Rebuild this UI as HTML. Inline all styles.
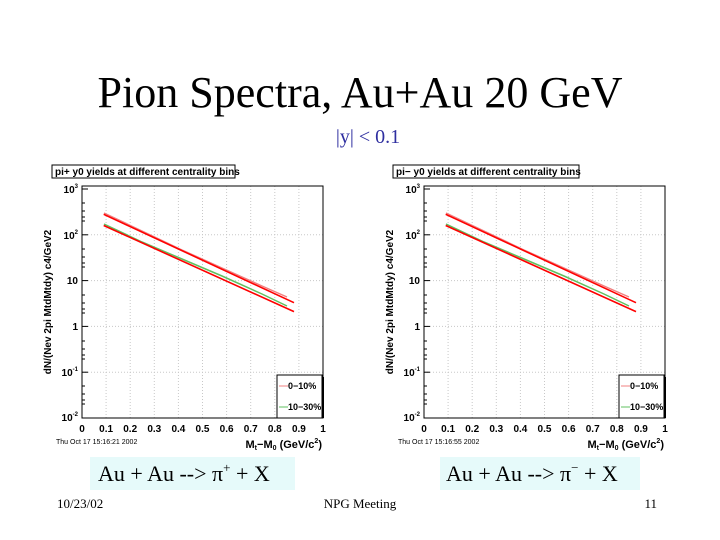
<!DOCTYPE html>
<html><head><meta charset="utf-8"><style>
html,body{margin:0;padding:0;background:#fff;}
svg{display:block;}
</style></head><body>
<svg width="720" height="540" viewBox="0 0 720 540" xmlns="http://www.w3.org/2000/svg">
<defs>
<g id="plot">
  <g stroke="#c8c8c8" stroke-width="1" stroke-dasharray="1,2">
    <line x1="24.1" y1="0" x2="24.1" y2="232"/><line x1="48.2" y1="0" x2="48.2" y2="232"/>
    <line x1="72.3" y1="0" x2="72.3" y2="232"/><line x1="96.4" y1="0" x2="96.4" y2="232"/>
    <line x1="120.5" y1="0" x2="120.5" y2="232"/><line x1="144.6" y1="0" x2="144.6" y2="232"/>
    <line x1="168.7" y1="0" x2="168.7" y2="232"/><line x1="192.8" y1="0" x2="192.8" y2="232"/>
    <line x1="216.9" y1="0" x2="216.9" y2="232"/>
    <line x1="0" y1="48.8" x2="241" y2="48.8"/><line x1="0" y1="94.6" x2="241" y2="94.6"/>
    <line x1="0" y1="140.4" x2="241" y2="140.4"/><line x1="0" y1="186.2" x2="241" y2="186.2"/>
  </g>
  <rect x="0" y="0" width="241" height="232" fill="none" stroke="#000" stroke-width="1"/>
  <g stroke="#000" stroke-width="1">
    <line x1="0" y1="3" x2="6" y2="3"/><line x1="0" y1="48.8" x2="6" y2="48.8"/><line x1="0" y1="94.6" x2="6" y2="94.6"/><line x1="0" y1="140.4" x2="6" y2="140.4"/><line x1="0" y1="186.2" x2="6" y2="186.2"/>
    <line x1="0" y1="17" x2="3" y2="17"/><line x1="0" y1="25" x2="3" y2="25"/><line x1="0" y1="31" x2="3" y2="31"/><line x1="0" y1="35" x2="3" y2="35"/>
    <line x1="0" y1="63" x2="3" y2="63"/><line x1="0" y1="71" x2="3" y2="71"/><line x1="0" y1="77" x2="3" y2="77"/><line x1="0" y1="81" x2="3" y2="81"/>
    <line x1="0" y1="109" x2="3" y2="109"/><line x1="0" y1="117" x2="3" y2="117"/><line x1="0" y1="123" x2="3" y2="123"/><line x1="0" y1="127" x2="3" y2="127"/>
    <line x1="0" y1="155" x2="3" y2="155"/><line x1="0" y1="163" x2="3" y2="163"/><line x1="0" y1="169" x2="3" y2="169"/><line x1="0" y1="173" x2="3" y2="173"/>
    <line x1="0" y1="200" x2="3" y2="200"/><line x1="0" y1="208" x2="3" y2="208"/><line x1="0" y1="214" x2="3" y2="214"/><line x1="0" y1="218" x2="3" y2="218"/>
  </g>
  <g fill="none" stroke="#f08080" stroke-width="1.5">
    <path d="M22,27 L60,45 L100,64 L140,82 L180,100 L205,111"/>
  </g>
  <g fill="none" stroke="#60c060" stroke-width="1.5">
    <path d="M22,38 L60,56 L100,73 L140,90 L180,108 L205,120"/>
  </g>
  <line x1="21.7" y1="28.3" x2="212" y2="116.7" stroke="#ff0000" stroke-width="1.6"/>
  <line x1="21.7" y1="39.5" x2="212" y2="125.6" stroke="#ff0000" stroke-width="1.6"/>
  <rect x="195" y="189" width="45" height="43" fill="#fff" stroke="#000"/>
  <rect x="240" y="191" width="2" height="41" fill="#000"/>
  <line x1="197" y1="200" x2="206" y2="200" stroke="#f08080"/>
  <line x1="197" y1="221" x2="206" y2="221" stroke="#60c060"/>
  <text x="206" y="203" font-family="Liberation Sans, sans-serif" font-size="9" font-weight="bold">0−10%</text>
  <text x="206" y="224" font-family="Liberation Sans, sans-serif" font-size="9" font-weight="bold">10−30%</text>
  <g font-family="Liberation Sans, sans-serif" font-size="10" font-weight="bold" text-anchor="middle">
    <text x="0" y="246">0</text><text x="24.1" y="246">0.1</text><text x="48.2" y="246">0.2</text><text x="72.3" y="246">0.3</text><text x="96.4" y="246">0.4</text><text x="120.5" y="246">0.5</text><text x="144.6" y="246">0.6</text><text x="168.7" y="246">0.7</text><text x="192.8" y="246">0.8</text><text x="216.9" y="246">0.9</text><text x="241" y="246">1</text>
  </g>
  <g font-family="Liberation Sans, sans-serif" font-size="10" font-weight="bold" text-anchor="end">
    <text x="-4" y="7">10<tspan font-size="6" dy="-5">3</tspan></text>
    <text x="-4" y="53">10<tspan font-size="6" dy="-5">2</tspan></text>
    <text x="-4" y="98">10</text>
    <text x="-4" y="144">1</text>
    <text x="-4" y="190">10<tspan font-size="6" dy="-5">-1</tspan></text>
    <text x="-4" y="235">10<tspan font-size="6" dy="-5">-2</tspan></text>
  </g>
  <text x="240" y="262" text-anchor="end" font-family="Liberation Sans, sans-serif" font-size="11" font-weight="bold">M<tspan font-size="7" dy="2">t</tspan><tspan dy="-2">−M</tspan><tspan font-size="7" dy="2">0</tspan><tspan dy="-2"> (GeV/c</tspan><tspan font-size="7" dy="-5">2</tspan><tspan dy="5">)</tspan></text>
  <text transform="translate(-31,116) rotate(-90)" text-anchor="middle" font-family="Liberation Sans, sans-serif" font-size="10" font-weight="bold">dN/(Nev 2pi MtdMtdy) c4/GeV2</text>
</g>
</defs>

<text x="360" y="107" text-anchor="middle" font-family="Liberation Serif, serif" font-size="44" textLength="525" lengthAdjust="spacingAndGlyphs">Pion Spectra, Au+Au 20 GeV</text>
<text x="368" y="143" text-anchor="middle" font-family="Liberation Serif, serif" font-size="20" fill="#2f2fa0">|y| &lt; 0.1</text>

<rect x="52" y="165" width="183" height="13" fill="#fff" stroke="#000"/>
<text x="55" y="175" font-family="Liberation Sans, sans-serif" font-size="10" font-weight="bold">pi+ y0 yields at different centrality bins</text>
<use href="#plot" x="82" y="186"/>
<text x="56" y="444" font-family="Liberation Sans, sans-serif" font-size="7">Thu Oct 17 15:16:21 2002</text>

<rect x="393" y="165" width="186" height="13" fill="#fff" stroke="#000"/>
<text x="396" y="175" font-family="Liberation Sans, sans-serif" font-size="10" font-weight="bold">pi− y0 yields at different centrality bins</text>
<use href="#plot" x="424" y="186"/>
<text x="398" y="444" font-family="Liberation Sans, sans-serif" font-size="7">Thu Oct 17 15:16:55 2002</text>

<rect x="90" y="457" width="205" height="33" fill="#e6fafa"/>
<text x="98" y="481" font-family="Liberation Serif, serif" font-size="22">Au + Au --&gt; π<tspan font-size="13" dy="-9">+</tspan><tspan dy="9"> + X</tspan></text>
<rect x="440" y="457" width="200" height="33" fill="#e6fafa"/>
<text x="446" y="481" font-family="Liberation Serif, serif" font-size="22">Au + Au --&gt; π<tspan font-size="13" dy="-9">−</tspan><tspan dy="9"> + X</tspan></text>

<g font-family="Liberation Serif, serif" font-size="13">
<text x="57" y="508">10/23/02</text>
<text x="360" y="508" text-anchor="middle">NPG Meeting</text>
<text x="657" y="508" text-anchor="end">11</text>
</g>
</svg>
</body></html>
